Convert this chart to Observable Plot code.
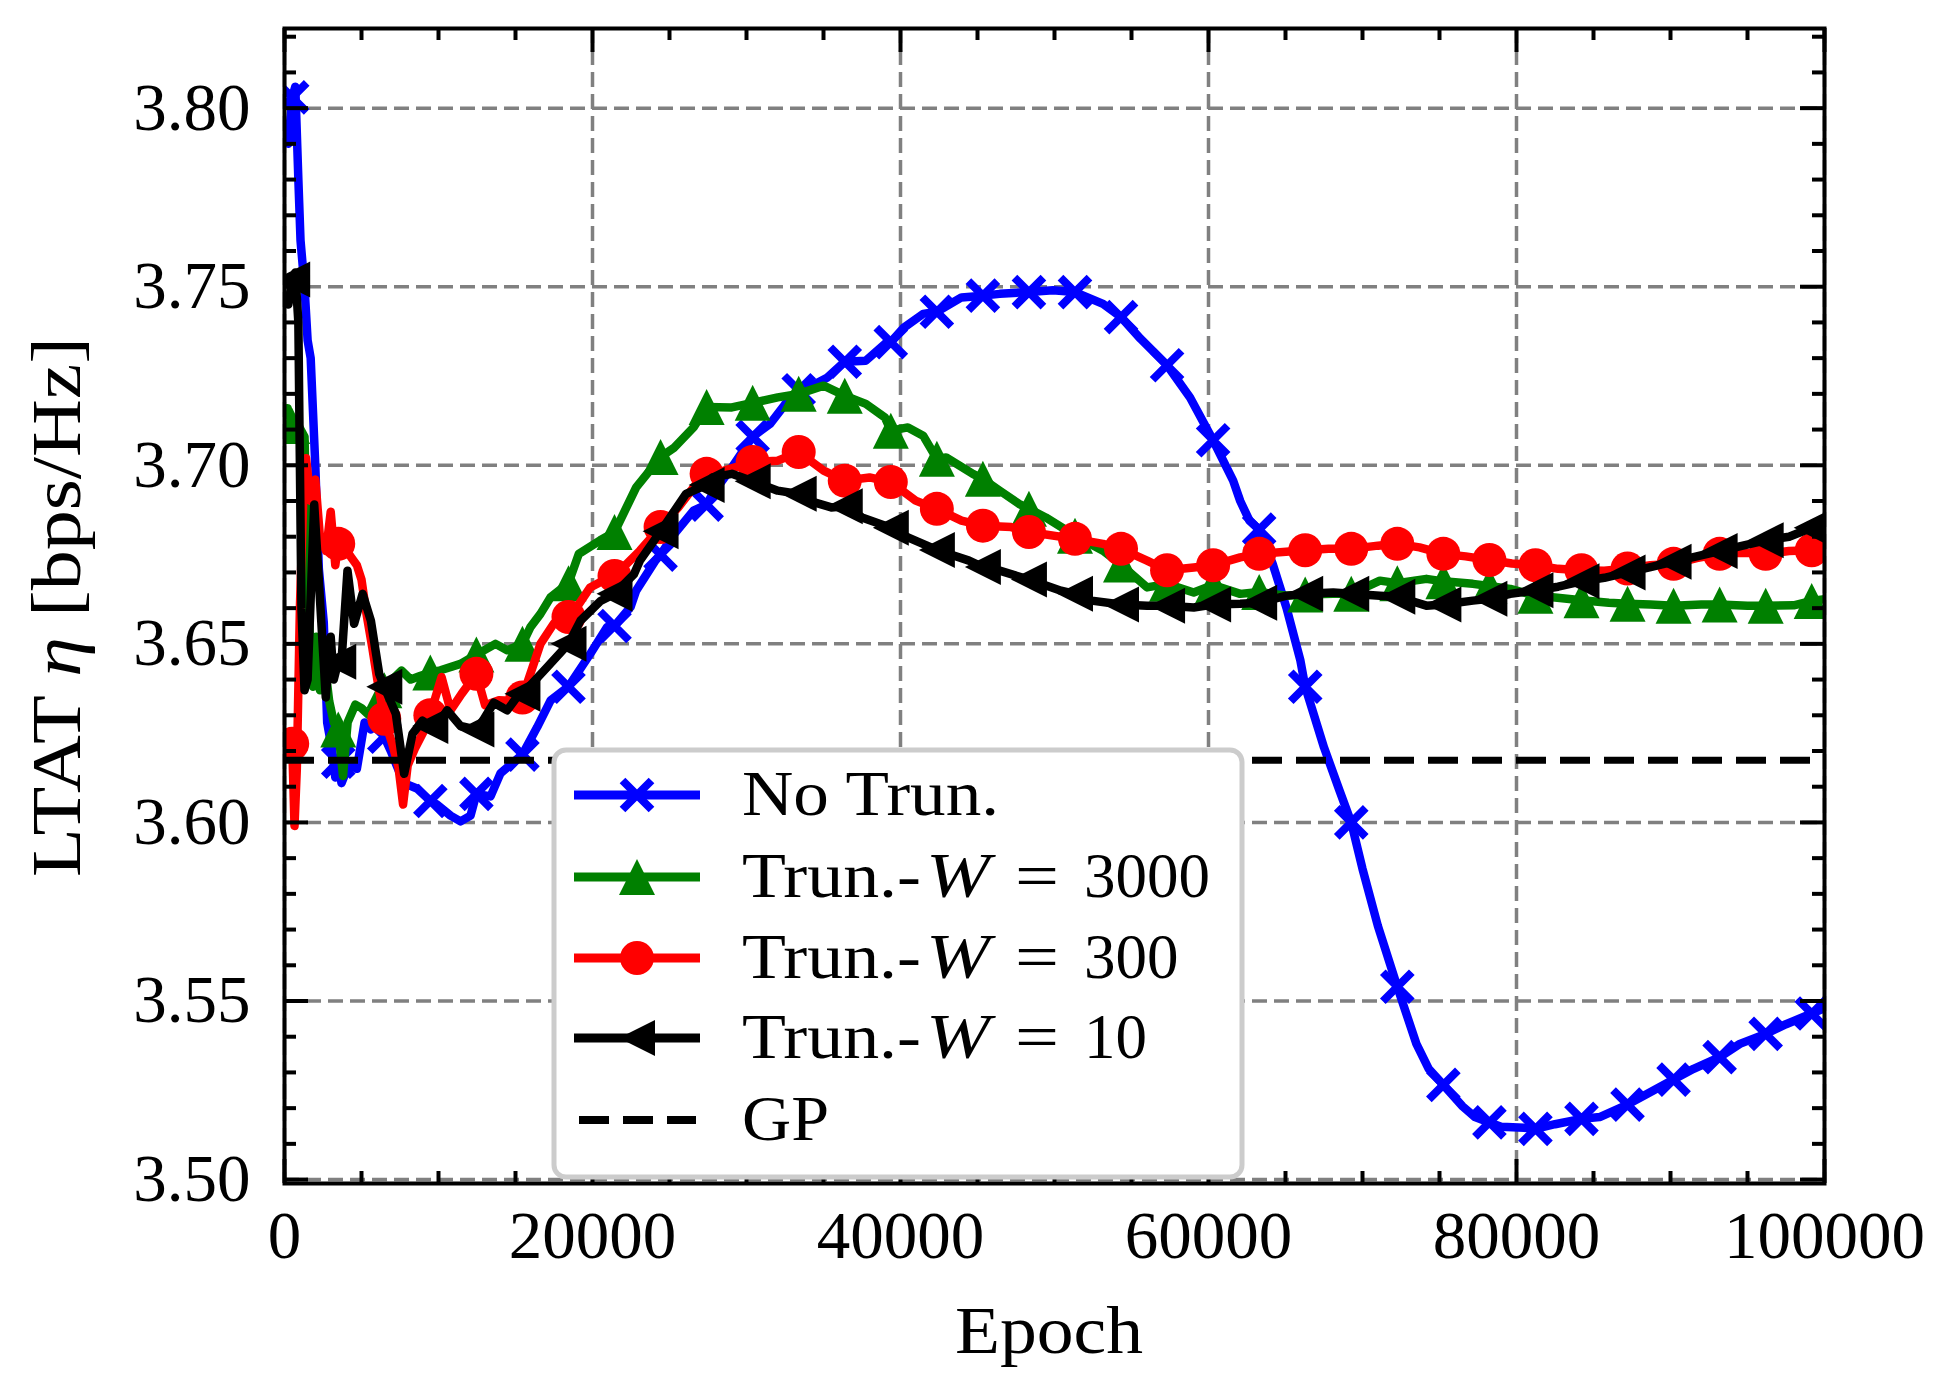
<!DOCTYPE html>
<html><head><meta charset="utf-8">
<script src="https://cdn.jsdelivr.net/npm/d3@7"></script>
<script src="https://cdn.jsdelivr.net/npm/@observablehq/plot@0.6"></script>
<style>
html,body{margin:0;padding:0;background:#fff;}
#chart{width:1954px;height:1395px;}
</style></head><body><div id="chart"></div>
<script>
// ---------- data ----------
const markEpochs = [500, 3490, 6480, 9470, 12460, 15450, 18440, 21430, 24420, 27410, 30400, 33390, 36380, 39370, 42360, 45350, 48340, 51330, 54320, 57310, 60300, 63290, 66280, 69270, 72260, 75250, 78240, 81230, 84220, 87210, 90200, 93190, 96180, 99170];

const blueMarks = [3.803, 3.617, 3.624, 3.606, 3.608, 3.619, 3.638, 3.655, 3.675, 3.689, 3.708, 3.721, 3.729, 3.7345, 3.743, 3.7475, 3.7485, 3.7485, 3.7415, 3.728, 3.707, 3.682, 3.638, 3.600, 3.554, 3.5265, 3.516, 3.5142, 3.517, 3.521, 3.528, 3.5343, 3.5408, 3.5465];
const greenMarks = [3.711, 3.626, 3.637, 3.642, 3.647, 3.650, 3.667, 3.6813, 3.7023, 3.7163, 3.7175, 3.7200, 3.7195, 3.7097, 3.7018, 3.6962, 3.6878, 3.6803, 3.6722, 3.6668, 3.6665, 3.6645, 3.6638, 3.664, 3.667, 3.6675, 3.6662, 3.6635, 3.6622, 3.6612, 3.6607, 3.661, 3.6607, 3.662];
const redMarks = [3.622, 3.678, 3.629, 3.630, 3.6416, 3.635, 3.6575, 3.669, 3.6827, 3.6976, 3.7009, 3.7037, 3.6957, 3.6953, 3.6878, 3.6831, 3.6813, 3.6794, 3.6766, 3.6706, 3.672, 3.6752, 3.6762, 3.6766, 3.678, 3.6752, 3.6735, 3.672, 3.6706, 3.6711, 3.6724, 3.6752, 3.6752, 3.6762];
const blackMarks = [3.752, 3.645, 3.638, 3.627, 3.626, 3.636, 3.650, 3.664, 3.6815, 3.6945, 3.6955, 3.692, 3.6885, 3.6825, 3.6763, 3.6715, 3.668, 3.664, 3.661, 3.6607, 3.661, 3.6615, 3.664, 3.664, 3.6632, 3.661, 3.6626, 3.665, 3.6675, 3.670, 3.673, 3.676, 3.679, 3.6825];

const blueExtra = [[250,3.79],[700,3.806],[900,3.78],[1040,3.763],[1300,3.75],[1500,3.735],[1700,3.73],[2000,3.70],[2230,3.671],[2550,3.656],[2770,3.628],[3100,3.620],[3300,3.6126],[3700,3.611],[4200,3.6164],[4700,3.615],[5200,3.628],[5600,3.626],[6000,3.629],[6900,3.620],[7750,3.611],[8600,3.6095],[9900,3.605],[10780,3.6019],[11430,3.6003],[12080,3.6019],[13380,3.6073],[14030,3.6138],[16410,3.6267],[17280,3.6342],[19870,3.6473],[20950,3.6547],[22470,3.6603],[22835,3.6649],[24080,3.6733],[25320,3.6808],[26560,3.6873],[27800,3.692],[29050,3.6994],[31530,3.7116],[32530,3.7172],[34020,3.7218],[35260,3.7246],[37750,3.7293],[38990,3.734],[40230,3.7386],[41470,3.7424],[43960,3.747],[46440,3.748],[49900,3.749],[53150,3.7452],[55590,3.7354],[58800,3.719],[61600,3.6957],[62060,3.690],[62660,3.6845],[64160,3.6725],[65070,3.660],[65970,3.6453],[67500,3.621],[68500,3.609],[70000,3.587],[71000,3.571],[73500,3.538],[74300,3.531],[76500,3.5205],[77300,3.5175],[79000,3.5148],[80500,3.5145],[82500,3.5155],[85400,3.5175],[88500,3.524],[91500,3.531],[94500,3.538],[97500,3.5435],[100000,3.548]];
const greenExtra = [[200,3.716],[800,3.712],[1300,3.708],[1500,3.67],[1700,3.645],[1850,3.638],[2050,3.652],[2300,3.637],[2600,3.645],[2900,3.634],[3200,3.628],[3800,3.613],[4100,3.628],[4600,3.633],[5000,3.632],[5500,3.630],[5900,3.633],[7000,3.640],[7600,3.6425],[8200,3.640],[8800,3.641],[10130,3.6426],[11430,3.6444],[13700,3.650],[14460,3.6482],[15970,3.6547],[16620,3.6584],[17270,3.663],[19110,3.6752],[20500,3.679],[22835,3.6938],[25320,3.705],[26560,3.7106],[29050,3.7162],[32030,3.719],[35010,3.7223],[37750,3.7172],[38990,3.7134],[40480,3.7106],[41470,3.7083],[42960,3.7022],[44700,3.6976],[46440,3.6929],[47690,3.6892],[49430,3.6854],[53150,3.6761],[56010,3.6658],[59040,3.6644],[62060,3.664],[65080,3.6635],[68100,3.664],[71130,3.6677],[74150,3.6682],[77170,3.6668],[79590,3.6654],[82500,3.663],[86000,3.6615],[88700,3.661],[92000,3.661],[95000,3.6607],[98000,3.6608],[100000,3.6625]];
const redExtra = [[250,3.623],[650,3.599],[800,3.615],[1000,3.66],[1250,3.695],[1400,3.702],[1700,3.690],[2000,3.696],[2300,3.680],[2700,3.676],[3000,3.687],[3300,3.672],[4200,3.675],[4700,3.672],[5000,3.668],[5300,3.659],[5700,3.649],[6100,3.638],[7000,3.622],[7400,3.6155],[7700,3.605],[8000,3.616],[8500,3.621],[9100,3.626],[9800,3.635],[10200,3.6407],[10780,3.6314],[11500,3.636],[13030,3.6328],[13920,3.6342],[15000,3.634],[16620,3.650],[17490,3.6557],[18790,3.659],[19850,3.6658],[20950,3.6683],[23080,3.6761],[25570,3.6882],[27060,3.6966],[28550,3.6985],[32030,3.7013],[35010,3.6985],[37990,3.6966],[40980,3.6901],[43960,3.6845],[47190,3.6827],[53150,3.678],[56010,3.6733],[59040,3.6714],[62060,3.6742],[67800,3.6766],[71000,3.6775],[73700,3.677],[76700,3.6745],[79700,3.6725],[82700,3.671],[85700,3.6705],[88700,3.672],[91700,3.674],[94700,3.6755],[97700,3.676],[100000,3.6768]];
const blackExtra = [[250,3.745],[700,3.754],[900,3.74],[1100,3.66],[1300,3.637],[1500,3.64],[1930,3.689],[2200,3.67],[2680,3.635],[3000,3.652],[3200,3.640],[3700,3.645],[4090,3.6705],[4520,3.6556],[5070,3.664],[5610,3.6565],[6150,3.6416],[7230,3.6304],[7770,3.6136],[8310,3.6248],[8960,3.6285],[9830,3.6266],[10560,3.6314],[11430,3.627],[12940,3.6289],[13590,3.6335],[14460,3.6314],[15100,3.6351],[17060,3.6435],[19220,3.6565],[20520,3.662],[22690,3.6695],[23080,3.6733],[26070,3.692],[27800,3.6966],[29050,3.6976],[32030,3.6929],[34020,3.6901],[35510,3.6882],[37500,3.6854],[40480,3.6798],[44450,3.6733],[46440,3.6705],[50420,3.6649],[52410,3.6621],[56010,3.6607],[59040,3.6602],[62060,3.6612],[65080,3.6635],[68100,3.6644],[71130,3.6635],[74150,3.6607],[77170,3.6621],[79590,3.664],[82700,3.666],[85700,3.6685],[88700,3.6715],[91700,3.6745],[94700,3.6775],[97700,3.680],[100000,3.6835]];

const gpValue = 3.6174;
const seriesNames = ["No Trun.", "Trun.-W = 3000", "Trun.-W = 300", "Trun.-W = 10", "GP"];
const xTicks = [0, 20000, 40000, 60000, 80000, 100000];
const xMinor = [5000, 10000, 15000, 25000, 30000, 35000, 45000, 50000, 55000, 65000, 70000, 75000, 85000, 90000, 95000];
const yTicks = [3.50, 3.55, 3.60, 3.65, 3.70, 3.75, 3.80];
const yMinor = [3.51, 3.52, 3.53, 3.54, 3.56, 3.57, 3.58, 3.59, 3.61, 3.62, 3.63, 3.64, 3.66, 3.67, 3.68, 3.69, 3.71, 3.72, 3.73, 3.74, 3.76, 3.77, 3.78, 3.79, 3.81, 3.82];

// ---------- build tables ----------
function markTable(vals) { return markEpochs.map((e, i) => ({epoch: e, value: vals[i]})); }
function lineTable(vals, extra) {
  return markTable(vals).concat(extra.map(([e, v]) => ({epoch: e, value: v}))).sort((a, b) => a.epoch - b.epoch);
}

// ---------- marker shapes ----------
const symTimes = {draw(ctx, size) { const s = Math.sqrt(size / Math.PI); ctx.moveTo(-s, -s); ctx.lineTo(s, s); ctx.moveTo(-s, s); ctx.lineTo(s, -s); }};
const symUp = {draw(ctx, size) { const s = Math.sqrt(size / Math.PI); ctx.moveTo(0, -s); ctx.lineTo(s, s); ctx.lineTo(-s, s); ctx.closePath(); }};
const symLeft = {draw(ctx, size) { const s = Math.sqrt(size / Math.PI); ctx.moveTo(-s, 0); ctx.lineTo(s, -s); ctx.lineTo(s, s); ctx.closePath(); }};
const symCircle = {draw(ctx, size) { const s = Math.sqrt(size / Math.PI); ctx.moveTo(s, 0); ctx.arc(0, 0, s, 0, 2 * Math.PI); }};

const series = [
  {name: seriesNames[0], color: "#0000ff", marks: blueMarks, extra: blueExtra, sym: symTimes, r: 14.5, filled: false},
  {name: seriesNames[1], color: "#008000", marks: greenMarks, extra: greenExtra, sym: symUp, r: 18, filled: true},
  {name: seriesNames[2], color: "#ff0000", marks: redMarks, extra: redExtra, sym: symCircle, r: 17, filled: true},
  {name: seriesNames[3], color: "#000000", marks: blackMarks, extra: blackExtra, sym: symLeft, r: 18, filled: true}
];

const W = 1954, H = 1395, mL = 284, mR = 130, mT = 28, mB = 212;
const pW = W - mL - mR, pH = H - mT - mB;
const FONT = "'Liberation Serif', 'Times New Roman', serif";

const seriesMarks = [];
for (const s of series) {
  seriesMarks.push(Plot.line(lineTable(s.marks, s.extra), {x: "epoch", y: "value", stroke: s.color, strokeWidth: 8.5, strokeLinejoin: "round", strokeLinecap: "round", clip: true}));
  seriesMarks.push(Plot.dot(markTable(s.marks), s.filled
    ? {x: "epoch", y: "value", symbol: s.sym, r: s.r, fill: s.color, stroke: "none", clip: true}
    : {x: "epoch", y: "value", symbol: s.sym, r: s.r, fill: "none", stroke: s.color, strokeWidth: 8, clip: true}));
}

const gridStyle = {stroke: "#808080", strokeOpacity: 1, strokeWidth: 3.5, strokeDasharray: "15,7"};
const tickStyle = {stroke: "black", strokeWidth: 4, strokeOpacity: 1};

const svg = Plot.plot({
  width: W, height: H,
  marginLeft: mL, marginRight: mR, marginTop: mT, marginBottom: mB,
  x: {domain: [0, 100000]},
  y: {domain: [3.4989, 3.8223]},
  style: {fontFamily: FONT, background: "white", color: "black"},
  marks: [
    Plot.gridX(xTicks, gridStyle),
    Plot.gridY(yTicks, gridStyle),
    ...seriesMarks,
    Plot.ruleY([gpValue], {stroke: "black", strokeWidth: 7, strokeDasharray: "30,14"}),
    Plot.tickY(yTicks, {y: d => d, ...tickStyle, insetRight: pW - 24}),
    Plot.tickY(yTicks, {y: d => d, ...tickStyle, insetLeft: pW - 24}),
    Plot.tickY(yMinor, {y: d => d, ...tickStyle, insetRight: pW - 12}),
    Plot.tickY(yMinor, {y: d => d, ...tickStyle, insetLeft: pW - 12}),
    Plot.tickX(xTicks, {x: d => d, ...tickStyle, insetBottom: pH - 24}),
    Plot.tickX(xTicks, {x: d => d, ...tickStyle, insetTop: pH - 24}),
    Plot.tickX(xMinor, {x: d => d, ...tickStyle, insetBottom: pH - 12}),
    Plot.tickX(xMinor, {x: d => d, ...tickStyle, insetTop: pH - 12}),
    Plot.axisX(xTicks, {anchor: "bottom", tickSize: 0, tickPadding: 27, fontSize: 67, label: null, tickFormat: d => String(d)}),
    Plot.axisY(yTicks, {anchor: "left", tickSize: 0, tickPadding: 34, fontSize: 67, label: null, tickFormat: d => d.toFixed(2)}),
    Plot.frame({stroke: "black", strokeWidth: 4})
  ]
});

// ---------- axis titles ----------
const root = d3.select(svg);
root.append("text")
  .attr("x", 1049).attr("y", 1353)
  .attr("text-anchor", "middle")
  .attr("font-family", FONT).attr("font-size", 67).attr("fill", "black")
  .attr("textLength", 188).attr("lengthAdjust", "spacingAndGlyphs")
  .text("Epoch");
const yl = root.append("text")
  .attr("transform", "translate(80,607) rotate(-90)")
  .attr("text-anchor", "middle")
  .attr("font-family", FONT).attr("font-size", 69).attr("fill", "black")
  .attr("textLength", 540).attr("lengthAdjust", "spacingAndGlyphs");
yl.append("tspan").text("LTAT ");
yl.append("tspan").attr("font-style", "italic").text("η");
yl.append("tspan").text(" [bps/Hz]");

// ---------- legend ----------
const lg = root.append("g").attr("text-anchor", "start");
lg.append("rect").attr("x", 554).attr("y", 750).attr("width", 688).attr("height", 427)
  .attr("rx", 12).attr("fill", "white").attr("stroke", "#cccccc").attr("stroke-width", 5);
const rowY = [795, 877, 958, 1038, 1120];
const numbers = ["3000", "300", "10"];
series.forEach((s, i) => {
  const y = rowY[i];
  lg.append("line").attr("x1", 574).attr("x2", 700).attr("y1", y).attr("y2", y)
    .attr("stroke", s.color).attr("stroke-width", 9);
  const p = d3.symbol().type(s.sym).size(Math.PI * s.r * s.r)();
  const m = lg.append("path").attr("d", p).attr("transform", `translate(637,${y})`);
  if (s.filled) m.attr("fill", s.color); else m.attr("fill", "none").attr("stroke", s.color).attr("stroke-width", 8);
});
lg.append("line").attr("x1", 579).attr("x2", 696).attr("y1", rowY[4]).attr("y2", rowY[4])
  .attr("stroke", "black").attr("stroke-width", 8).attr("stroke-dasharray", "30,14");
function lgText(x, y, str, len, italic) {
  const t = lg.append("text").attr("x", x).attr("y", y + 20).attr("text-anchor", "start")
    .attr("font-family", FONT).attr("font-size", 63).attr("fill", "black").text(str);
  if (len) t.attr("textLength", len).attr("lengthAdjust", "spacingAndGlyphs");
  if (italic) t.attr("font-style", "italic");
}
lgText(742, rowY[0], seriesNames[0], 257);
for (let i = 1; i <= 3; i++) {
  lgText(742, rowY[i], "Trun.-", 179);
  lgText(926, rowY[i], "W", 64, true);
  lgText(1015, rowY[i], "=", 44);
  lgText(1084, rowY[i], numbers[i - 1]);
}
lgText(742, rowY[4], seriesNames[4], 87);

document.getElementById("chart").appendChild(svg);
</script></body></html>
